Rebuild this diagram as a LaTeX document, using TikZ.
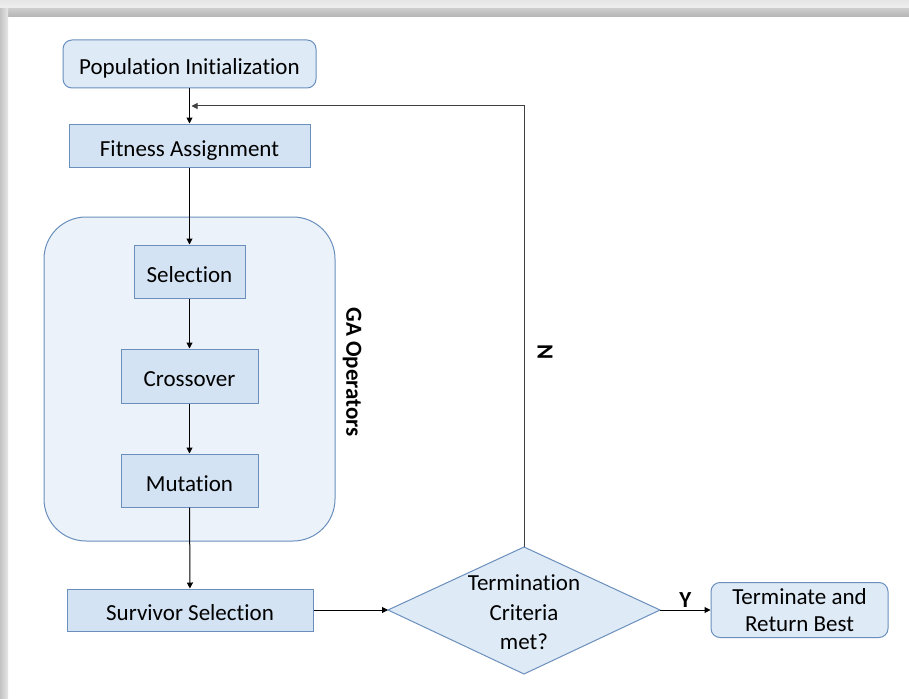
\documentclass[tikz,border=0pt]{standalone}
\usepackage{fontspec}
\setmainfont[Ligatures=NoCommon]{Carlito}
\usetikzlibrary{arrows.meta,shapes.geometric,calc}
\definecolor{edgeblue}{HTML}{6A8FBD}
\definecolor{boxfill}{HTML}{D3E3F3}
\definecolor{roundfill}{HTML}{DEEAF6}
\definecolor{groupfill}{HTML}{EBF2FA}
\definecolor{shadeA}{HTML}{E6E6E6}
\definecolor{shadeB}{HTML}{B4B4B4}
\tikzset{
  base/.style={draw=edgeblue, line width=1pt, font=\fontsize{23}{26}\selectfont, inner sep=0pt, align=center},
  oneline/.style={text height=21pt, text depth=0pt},
  procbox/.style={base, oneline, fill=boxfill, rectangle},
  termbox/.style={base, fill=roundfill, rounded corners=9pt},
  flow/.style={line width=1pt, -{Triangle[length=6pt,width=6pt]}},
  lbl/.style={font=\bfseries\fontsize{23}{26}\selectfont}
}
\begin{document}
\begin{tikzpicture}[x=1pt,y=-1pt]
  \useasboundingbox (0,0) rectangle (909,698);
  \fill[white] (0,0) rectangle (909,698);
  % drop shadow along the top and left edges
  \shade[top color=shadeA, bottom color=shadeA!60] (0,0) rectangle (909,9);
  \shade[top color=shadeB!70, bottom color=shadeB] (0,9) rectangle (909,17);
  \shade[left color=shadeB!80, right color=shadeA] (0,9) rectangle (8,698);

  % operator group
  \node[draw=edgeblue, line width=1pt, fill=groupfill, rounded corners=42pt,
        minimum width=291pt, minimum height=324pt, inner sep=0pt] (group) at (189.5,379) {};
  \node[lbl, rotate=-90] (glabel) at (352,372) {GA Operators};

  \node[termbox, oneline, minimum width=253pt, minimum height=48pt] (init) at (189.5,64) {Population Initialization};
  \node[procbox, minimum width=241pt, minimum height=43pt] (fit) at (189.5,145.5) {Fitness Assignment};
  \node[procbox, minimum width=111pt, minimum height=53pt] (sel) at (189.5,271.5) {Selection};
  \node[procbox, minimum width=137pt, minimum height=54pt] (cross) at (189.5,376) {Crossover};
  \node[procbox, minimum width=137pt, minimum height=53pt] (mut) at (189.5,480.5) {Mutation};
  \node[procbox, minimum width=246pt, minimum height=42pt] (surv) at (190,610) {Survivor Selection};

  % decision
  \path[draw=edgeblue, line width=1pt, fill=roundfill]
    (388,610) coordinate (dl) -- (524,547) coordinate (dt) -- (660,610) coordinate (dr) -- (524,674) -- cycle;
  \node[font=\fontsize{23}{29.5}\selectfont, align=center] (dec) at (524,612.5) {Termination\\Criteria\\met?};

  \node[termbox, font=\fontsize{23}{27}\selectfont, minimum width=177pt, minimum height=55pt] (done) at (799.5,610) {Terminate and\\Return Best};

  % connectors
  \coordinate (join) at (189.5,106);
  \draw[flow] (init) -- (fit);
  \draw[flow] (fit) -- (sel);
  \draw[flow] (sel) -- (cross);
  \draw[flow] (cross) -- (mut);
  \draw[flow] (mut) -- (surv);
  \draw[flow] (surv) -- (dl);
  \draw[flow] (dr) -- node[lbl, above, pos=0.5, yshift=-1pt] (ylab) {Y} (done);
  \draw[flow, draw=black!75] (dt) -- (524,106) -- ($(join)+(2,0)$);
  \node[lbl, rotate=-90] (nlab) at (545,352) {N};
\end{tikzpicture}
\end{document}
